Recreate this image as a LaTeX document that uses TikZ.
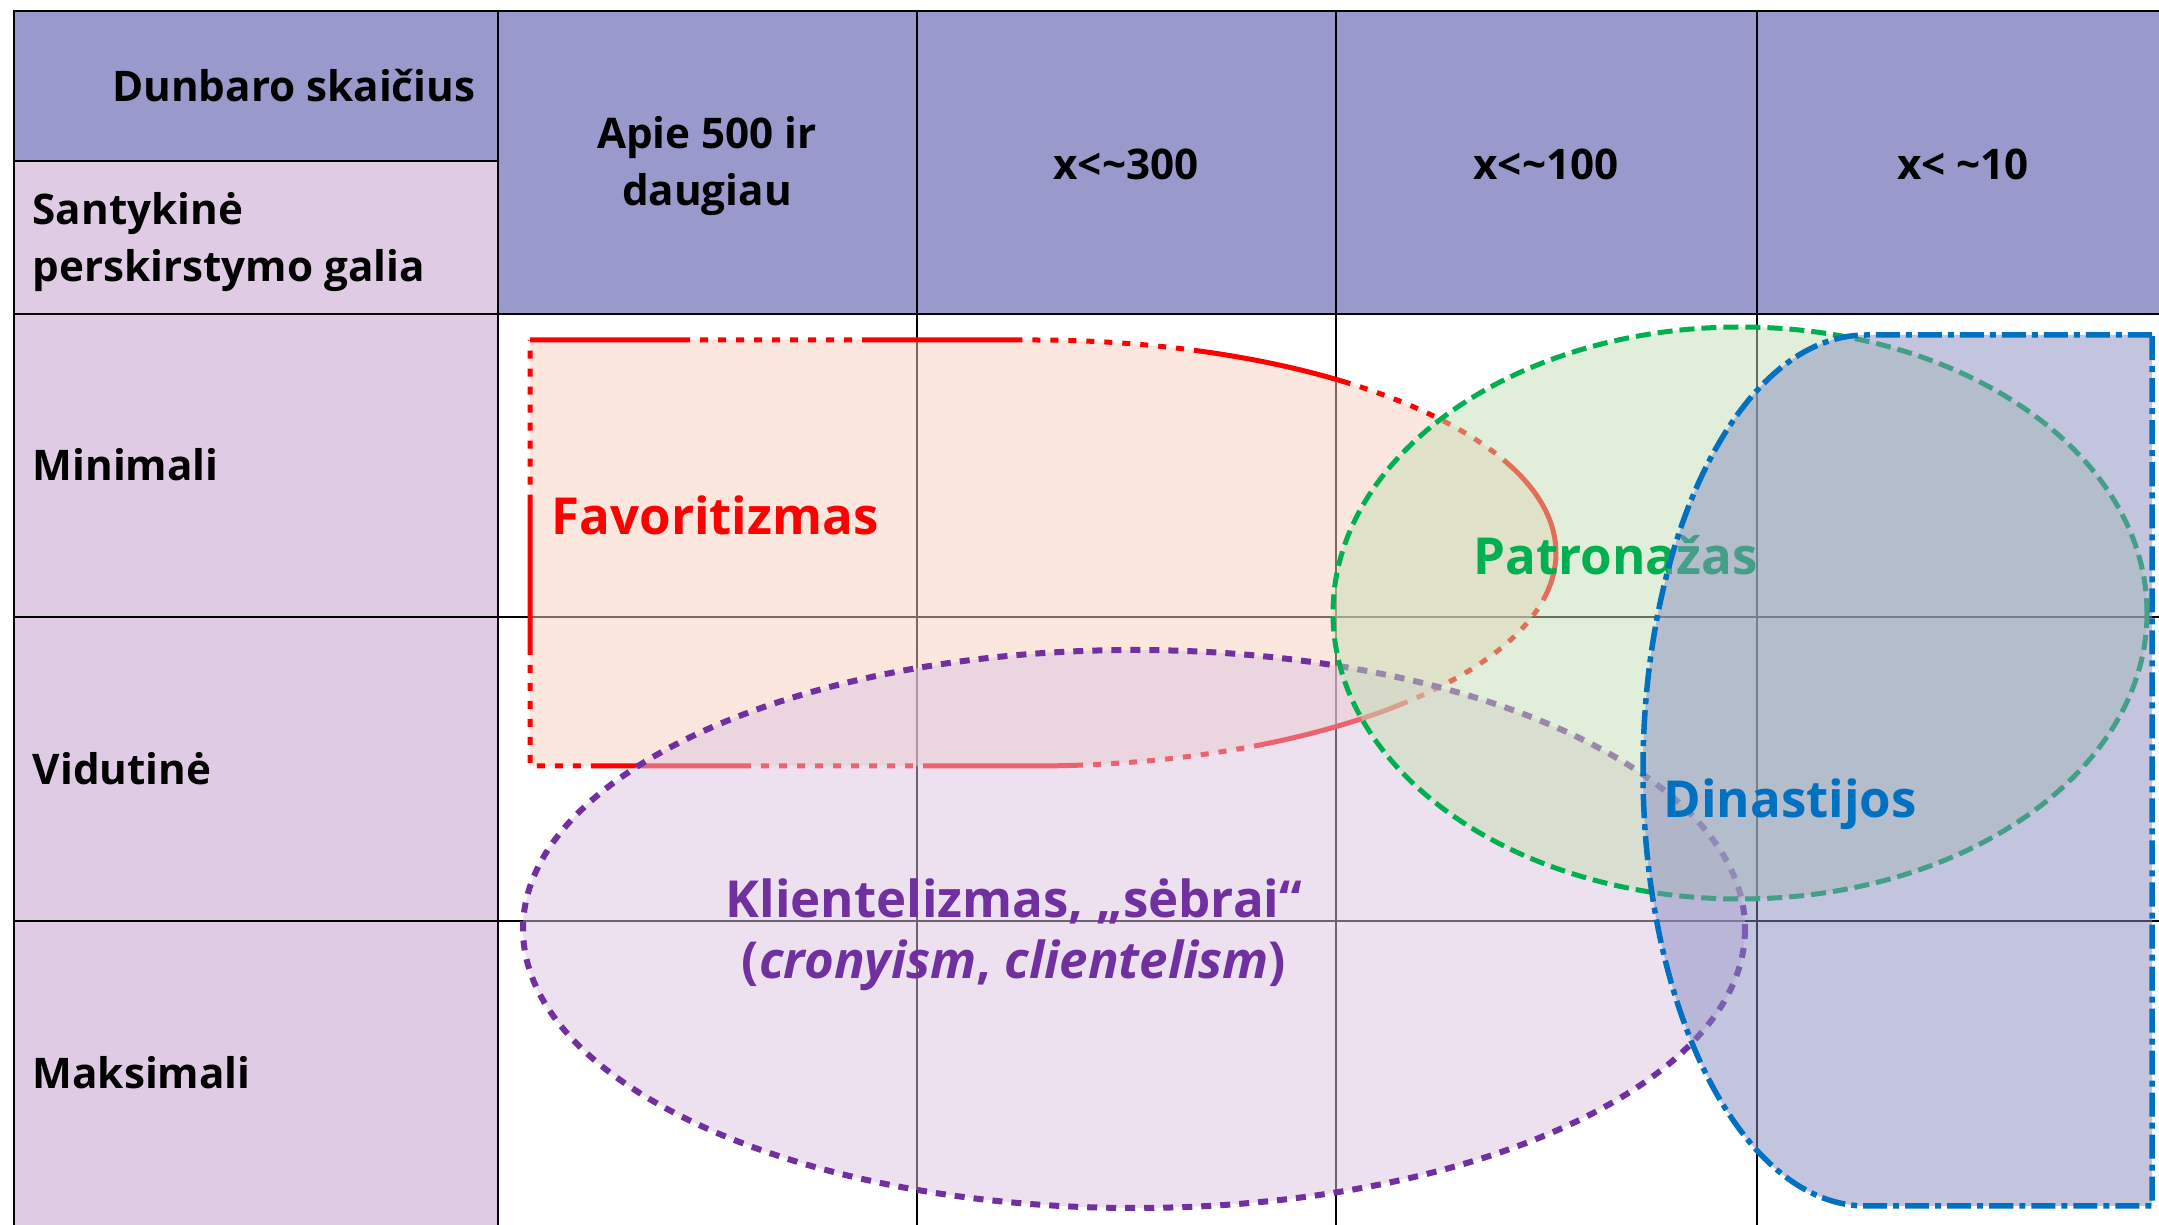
\documentclass[tikz,border=0pt]{standalone}
\usepackage{fontspec}
\setmainfont{Open Sans}
\usepackage{xcolor}
\usepackage{tikz}
\definecolor{headblue}{RGB}{153,153,204}
\definecolor{rowlilac}{RGB}{223,204,228}
\definecolor{favred}{RGB}{255,0,0}
\definecolor{favfill}{RGB}{249,209,189}
\definecolor{klipurple}{RGB}{112,48,160}
\definecolor{klifill}{RGB}{221,197,225}
\definecolor{patgreen}{RGB}{0,176,80}
\definecolor{patfill}{RGB}{197,223,181}
\definecolor{dinblue}{RGB}{0,112,192}
\definecolor{dinfill}{RGB}{137,141,193}
\tikzset{
  hdr/.style      = {font=\bfseries\fontsize{12}{16.4}\selectfont, inner sep=0pt,
                     align=center},
  rowlbl/.style   = {font=\bfseries\fontsize{12}{16.4}\selectfont, inner sep=0pt,
                     anchor=west, align=left},
  grp/.style      = {font=\bfseries\fontsize{14.5}{17.4}\selectfont, inner sep=0pt,
                     align=center},
  gridline/.style = {line width=0.15mm, draw=black},
  border/.style   = {line width=0.25mm, draw=black},
  favset/.style   = {draw=favred, fill=favfill, fill opacity=0.5, line width=0.5mm,
                     dash pattern=on 16mm off 1mm on 0.8mm off 1mm on 0.8mm off 1mm
                     on 0.8mm off 1mm on 0.8mm off 1mm on 0.8mm off 1mm on 0.8mm off 1mm
                     on 0.8mm off 1mm on 0.8mm off 1mm on 0.8mm off 1mm},
  kliset/.style   = {draw=klipurple, fill=klifill, fill opacity=0.5, line width=0.6mm,
                     dash pattern=on 1mm off 0.9mm},
  patset/.style   = {draw=patgreen, fill=patfill, fill opacity=0.5, line width=0.5mm,
                     dash pattern=on 1.5mm off 0.7mm},
  dinset/.style   = {draw=dinblue, fill=dinfill, fill opacity=0.5, line width=0.55mm,
                     dash pattern=on 2.4mm off 0.6mm on 0.6mm off 0.6mm},
}

\begin{document}
\begin{tikzpicture}[x=0.01cm, y=-0.01cm]

\useasboundingbox (0,0) rectangle (2159,1225);
\fill[white] (0,0) rectangle (2159,1225);

% header and row label cells
\fill[headblue] (14,11) rectangle (2159,161);
\fill[headblue] (498,161) rectangle (2159,314);
\fill[rowlilac] (14,161) rectangle (498,1225);

% table lines
\foreach \x in {917,1336,1757}
  \draw[gridline] (\x,11) -- (\x,1225);
\foreach \y in {617,921}
  \draw[gridline] (14,\y) -- (2159,\y);
\draw[border] (14,161) -- (498,161);
\draw[border] (14,314) -- (2159,314);
\draw[border] (498,11) -- (498,1225);
\draw[border] (14,1225) -- (14,11) -- (2159,11);

% header texts
\node[hdr, anchor=east] (dunbar) at (476,86) {Dunbaro skaičius};
\node[rowlbl] (galia) at (32,242) {Santykinė\\perskirstymo galia};
\node[hdr] (c500) at (707,166) {Apie 500 ir\\daugiau};
\node[hdr] (c300) at (1126,164) {x<\textasciitilde300};
\node[hdr] (c100) at (1546,164) {x<\textasciitilde100};
\node[hdr] (c10) at (1963,164) {x< \textasciitilde10};

% row labels
\node[rowlbl] (rmin) at (32,465) {Minimali};
\node[rowlbl] (rmid) at (32,769) {Vidutinė};
\node[rowlbl] (rmax) at (32,1073) {Maksimali};

% Favoritizmas
\path[favset] (530,340) -- (1033,340)
  arc[start angle=-90, end angle=90, x radius=523, y radius=213]
  -- (530,766) -- cycle;
\node[grp, text=favred, anchor=west] (fav) at (551,515) {Favoritizmas};

% Klientelizmas
\path[kliset] (1134,929) ellipse [x radius=611, y radius=279];
\node[grp, text=klipurple] (kli) at (1014,935)
  {Klientelizmas, „sėbrai“\\(\textit{cronyism}, \textit{clientelism})};

% Patronazas
\path[patset] (1740,613) ellipse [x radius=407, y radius=286];
\node[grp, text=patgreen, anchor=west] (pat) at (1473,555) {Patronažas};

% Dinastijos
\path[dinset] (2152,335) -- (1866,335)
  arc[start angle=-90, end angle=-270, x radius=223, y radius=435.5]
  -- (2152,1206) -- cycle;
\node[grp, text=dinblue, anchor=west] (din) at (1663,804) {Dinastijos};

\end{tikzpicture}
\end{document}
